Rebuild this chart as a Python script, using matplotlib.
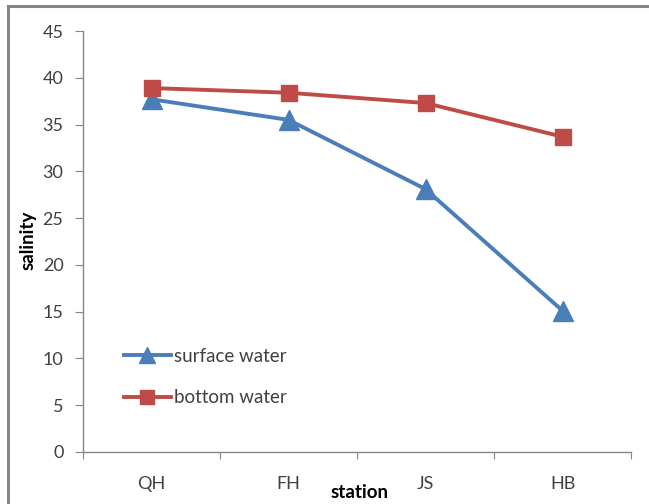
import matplotlib.pyplot as plt
from matplotlib.lines import Line2D

# salinity at each station
stations = ['QH', 'FH', 'JS', 'HB']
surface_water = [37.7, 35.5, 28.1, 15.1]
bottom_water = [38.9, 38.4, 37.3, 33.7]

plt.rcParams['font.family'] = ['Lato', 'DejaVu Sans']

fig = plt.figure(figsize=(6.49, 5.04), dpi=100)
ax = fig.add_axes([83/649, 1 - 452/504, 548/649, 421/504])

# outer chart frame: only its top and left edges fall inside the image
fx, fy = 8/649, 1 - 6/504
fig.add_artist(Line2D([fx, 1.0], [fy, fy], transform=fig.transFigure,
                      color='#868686', linewidth=2.2))
fig.add_artist(Line2D([fx, fx], [0.0, fy], transform=fig.transFigure,
                      color='#868686', linewidth=2.2))

x = list(range(len(stations)))
ax.plot(x, surface_water, color='#4A7EBB', linewidth=2.8, marker='^', markersize=14,
        label='surface water')
ax.plot(x, bottom_water, color='#BE4B48', linewidth=2.8, marker='s', markersize=11.5,
        label='bottom water')

ax.set_ylim(0, 45)
ax.set_xlim(-0.5, 3.5)
ax.set_yticks(range(0, 46, 5))

# tick marks between categories, labels under each station
ax.set_xticks([-0.5, 0.5, 1.5, 2.5, 3.5])
ax.set_xticklabels([])
ax.set_xticks(x, minor=True)
ax.set_xticklabels(stations, minor=True)
ax.tick_params(axis='x', which='minor', length=0, pad=17, labelsize=13, labelcolor='#404040')
ax.tick_params(axis='x', which='major', length=5, color='#868686')
ax.tick_params(axis='y', length=6, pad=8, labelsize=13, labelcolor='#404040', color='#868686')

for side in ['top', 'right']:
    ax.spines[side].set_visible(False)
for side in ['left', 'bottom']:
    ax.spines[side].set_color('#868686')
    ax.spines[side].set_linewidth(1.0)

fig.text(28/649, 1 - 240/504, 'salinity', rotation=90, fontsize=13.5, fontweight='bold',
         ha='center', va='center')
fig.text(360/649, 1 - 492/504, 'station', fontsize=13.5, fontweight='bold',
         ha='center', va='center')

ax.legend(loc='upper left', bbox_to_anchor=(24/548, (452 - 331)/421), frameon=False,
          fontsize=13.5, handlelength=2.5, handletextpad=0.2, labelspacing=1.3,
          markerscale=0.85, labelcolor='#404040')

fig.savefig('out.png', dpi=100)
